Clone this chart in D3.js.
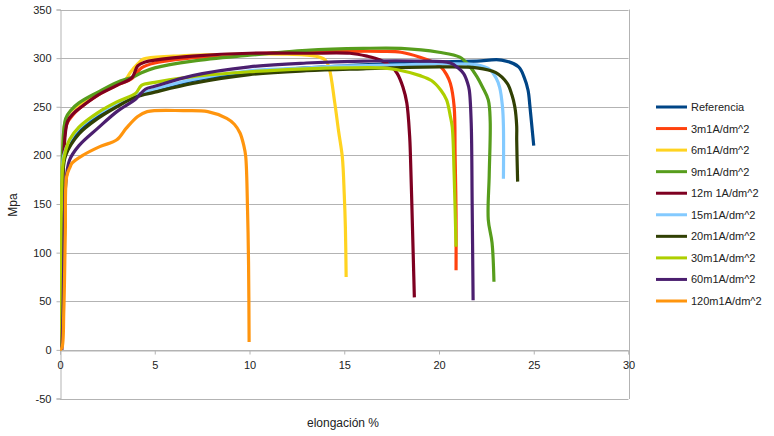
<!DOCTYPE html>
<html><head><meta charset="utf-8">
<script src="https://cdn.jsdelivr.net/npm/d3@7/dist/d3.min.js"></script>
<style>body{margin:0;background:#fff}svg{display:block}text{font-family:"Liberation Sans",Arial,sans-serif}</style>
</head><body><svg id="c" width="774" height="436"></svg>
<script>
const seriesNames = ["Referencia","3m1A/dm^2","6m1A/dm^2","9m1A/dm^2","12m 1A/dm^2","15m1A/dm^2","20m1A/dm^2","30m1A/dm^2","60m1A/dm^2","120m1A/dm^2"];
const seriesColors = ["#004586","#ff420e","#ffd320","#579d1c","#7e0021","#83caff","#314004","#aecf00","#4b1f6f","#ff950e"];
const xTicks = [0,5,10,15,20,25,30];
const yTicks = [-50,0,50,100,150,200,250,300,350];

// [elongation %, MPa]
const referencia = [[0,0],[0.05,90],[0.12,180],[0.2,200],[0.5,213],[1,225],[2,240],[3,252],[4,261],[5,267],[7,277],[10,285],[13,290],[15,292],[18,295],[20,296],[22,297],[23.3,298],[24.2,291],[24.5,280],[24.7,267],[24.8,250],[24.9,230],[25.0,210]];
const s3 = [[0,0],[0.08,100],[0.18,200],[0.35,232],[0.7,242],[1,248],[2,262],[3,272],[3.8,279],[4.3,290],[5,295],[8,302],[12,306],[15,307],[17,307],[18,306],[19,301],[19.7,296],[20.1,291],[20.4,283],[20.6,274],[20.8,250],[20.85,200],[20.9,140],[20.9,82]];
const s6 = [[0,0],[0.08,120],[0.15,210],[0.25,232],[0.5,244],[1,252],[2,263],[3,273],[3.5,279],[3.7,285],[4.1,294],[4.4,299],[6,302],[9,304],[12,304],[13.5,302],[14.0,298],[14.2,290],[14.5,254],[14.7,225],[14.9,198],[15.0,160],[15.06,126],[15.1,75]];
const s9 = [[0,0],[0.07,110],[0.15,210],[0.3,238],[0.6,247],[1,254],[2,265],[3,275],[3.9,281],[4.3,285],[5,290],[7,297],[10,303],[13,308],[16,310],[18,310],[20,306],[21.1,301],[21.6,292],[22.0,281],[22.3,270],[22.6,257],[22.7,236],[22.65,180],[22.6,134],[22.8,110],[22.9,70]];
const s12 = [[0,0],[0.1,100],[0.2,200],[0.4,235],[0.7,243],[1,248],[2,262],[3,272],[3.8,280],[4.1,292],[4.5,296],[5,298],[7,302],[10,305],[13,305],[15.3,305],[16.2,302],[16.9,298],[17.5,291],[17.8,284],[18.1,270],[18.3,254],[18.45,220],[18.5,195],[18.6,126],[18.65,90],[18.7,54]];
const s15 = [[0,0],[0.06,100],[0.14,190],[0.2,200],[0.5,215],[1,228],[2,243],[3,253],[4,262],[5,268],[7,278],[10,287],[13,290],[15,292],[18,293],[20,294],[22,293],[22.7,288],[23.0,280],[23.2,270],[23.35,250],[23.4,230],[23.4,176]];
const s20 = [[0,0],[0.05,90],[0.15,180],[0.3,200],[1,222],[2,238],[3,250],[4,260],[5,265],[7,274],[10,283],[13,287],[16,289],[20,291],[22,290],[23.0,285],[23.6,274],[23.85,262],[24.0,250],[24.1,230],[24.1,216],[24.15,173]];
const s30 = [[0,0],[0.05,100],[0.15,190],[0.3,205],[0.5,216],[1,229],[2,244],[3,255],[4,264],[4.3,272],[5,275],[7,281],[10,286],[13,289],[15,290],[17,290],[17.8,288],[19,282],[19.6,277],[20.1,267],[20.4,257],[20.6,240],[20.7,229],[20.8,180],[20.9,106]];
const s60 = [[0.1,0],[0.16,40],[0.22,120],[0.3,170],[0.5,195],[1,210],[2,228],[3,245],[4,258],[4.5,268],[5,271],[7,282],[10,291],[13,295],[16,297],[19,297],[20.6,295],[21.0,290],[21.3,284],[21.5,275],[21.6,267],[21.7,233],[21.75,150],[21.8,51]];
const s120 = [[0,0],[0.1,2],[0.2,40],[0.28,120],[0.35,178],[0.53,188],[0.63,192],[1.2,200],[2.1,209],[3.0,216],[3.5,228],[4.1,240],[4.6,245],[6.5,246],[7.8,245],[8.8,238],[9.2,232],[9.5,223],[9.7,210],[9.8,199],[9.9,141],[9.95,89],[9.98,8]];

const seriesData = [referencia,s3,s6,s9,s12,s15,s20,s30,s60,s120];

const svg = d3.select("#c");
const x = d3.scaleLinear().domain([0,30]).range([60,628.5]);
const y = d3.scaleLinear().domain([-50,350]).range([398.5,9.5]);
const grid = "#b3b3b3";

// gridlines
svg.append("g").selectAll("line").data(yTicks).join("line")
  .attr("x1",x(0)).attr("x2",x(30)).attr("y1",d=>Math.round(y(d))+0.5).attr("y2",d=>Math.round(y(d))+0.5)
  .attr("stroke",grid).attr("stroke-width",1);
// right border
svg.append("line").attr("x1",Math.round(x(30))+0.5).attr("x2",Math.round(x(30))+0.5).attr("y1",y(350)).attr("y2",y(-50)+0.5).attr("stroke",grid);

// y axis
const yAxis = svg.append("g").attr("transform",`translate(${Math.round(x(0))+0.5},0)`)
  .call(d3.axisLeft(y).tickValues(yTicks).tickSize(4).tickPadding(5).tickFormat(d=>String(d)));
yAxis.select(".domain").attr("stroke",grid);
yAxis.selectAll(".tick line").attr("stroke",grid);
yAxis.selectAll("text").attr("font-size",11).attr("fill","#222").attr("font-family","Liberation Sans, Arial, sans-serif");

// x axis at y=0
const xAxis = svg.append("g").attr("transform",`translate(0,${Math.round(y(0))+0.5})`)
  .call(d3.axisBottom(x).tickValues(xTicks).tickSize(4).tickPadding(7).tickFormat(d=>String(d)));
xAxis.select(".domain").attr("stroke",grid);
xAxis.selectAll(".tick line").attr("stroke",grid);
xAxis.selectAll("text").attr("font-size",11).attr("fill","#222").attr("font-family","Liberation Sans, Arial, sans-serif");

// lines
const line = d3.line().x(d=>x(d[0])).y(d=>y(d[1])).curve(d3.curveCatmullRom.alpha(0.5));
svg.append("clipPath").attr("id","pc").append("rect").attr("x",x(0)).attr("y",y(350)).attr("width",x(30)-x(0)).attr("height",y(-50)-y(350));
svg.append("g").attr("clip-path","url(#pc)").selectAll("path").data(seriesData).join("path")
  .attr("d",line).attr("fill","none").attr("stroke",(d,i)=>seriesColors[i])
  .attr("stroke-width",3.2).attr("stroke-linejoin","round");

// axis titles
svg.append("text").attr("transform","translate(17,205) rotate(-90)").attr("text-anchor","middle")
  .attr("font-size",12).attr("fill","#222").text("Mpa");
svg.append("text").attr("x",343).attr("y",427).attr("text-anchor","middle")
  .attr("font-size",12).attr("fill","#222").text("elongación %");

// legend
const lg = svg.append("g");
const lgY = d3.scalePoint().domain(seriesNames).range([107,301]);
seriesNames.forEach((n,i)=>{
  lg.append("line").attr("x1",656).attr("x2",687).attr("y1",lgY(n)).attr("y2",lgY(n))
    .attr("stroke",seriesColors[i]).attr("stroke-width",3);
  lg.append("text").attr("x",691).attr("y",lgY(n)+4).attr("font-size",11).attr("fill","#222").text(n);
});
</script></body></html>
